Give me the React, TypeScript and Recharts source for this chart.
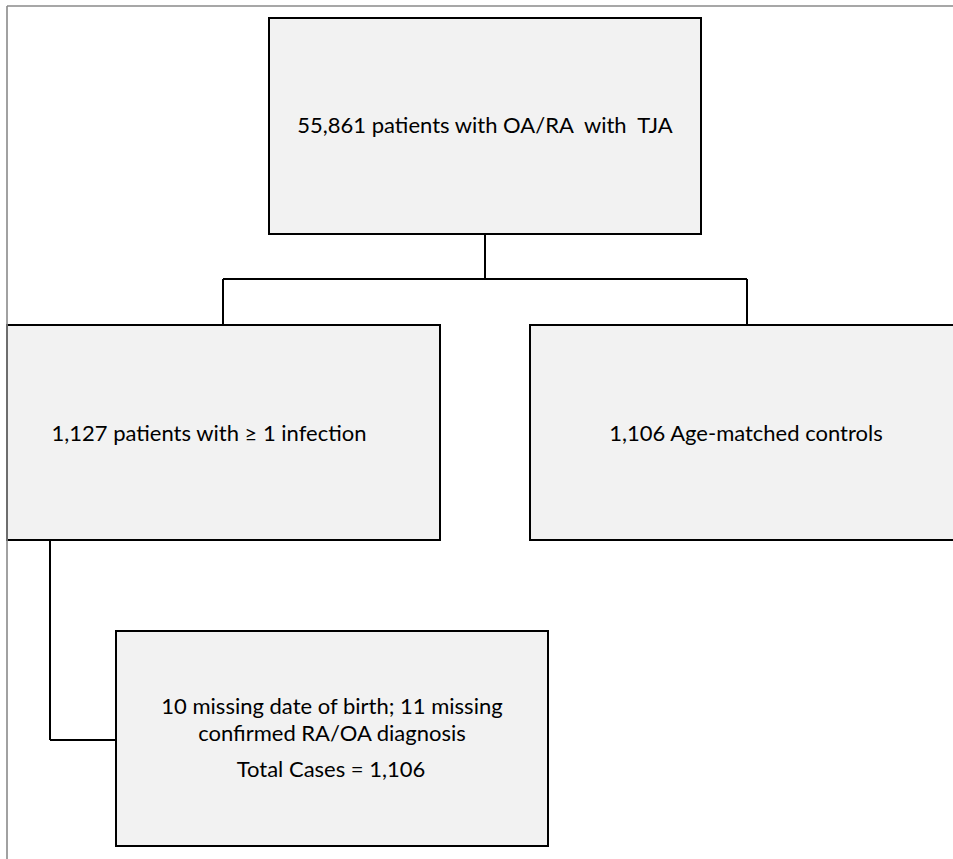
import React from 'react';
import { ComposedChart, XAxis, YAxis, ReferenceArea, ReferenceLine, Scatter } from 'recharts';

// Flowchart nodes (chart units = page pixels)
const boxes = [
  { id: 'total', x1: 269, x2: 701, y1: 18, y2: 234 },
  { id: 'cases', x1: 7, x2: 440, y1: 325, y2: 540 },
  { id: 'controls', x1: 530, x2: 964, y1: 325, y2: 540 },
  { id: 'final', x1: 116, x2: 548, y1: 631, y2: 846 },
];

// Connectors between nodes
const connectors = [
  [{ x: 485, y: 234 }, { x: 485, y: 279 }],
  [{ x: 223, y: 279 }, { x: 747, y: 279 }],
  [{ x: 223, y: 279 }, { x: 223, y: 325 }],
  [{ x: 747, y: 279 }, { x: 747, y: 325 }],
  [{ x: 50, y: 540 }, { x: 50, y: 740 }],
  [{ x: 50, y: 740 }, { x: 116, y: 740 }],
];

// Outer frame lines
const frame = [
  [{ x: 7, y: 6 }, { x: 953, y: 6 }],
  [{ x: 7, y: 6 }, { x: 7, y: 859 }],
];

// Text labels (x = centre, y = baseline)
const labels = [
  { x: 485, y: 133, text: '55,861 patients with OA/RA  with  TJA' },
  { x: 209, y: 441, text: '1,127 patients with \u2265 1 infection' },
  { x: 746, y: 441, text: '1,106 Age-matched controls' },
  { x: 332, y: 714, text: '10 missing date of birth; 11 missing' },
  { x: 332, y: 741, text: 'confirmed RA/OA diagnosis' },
  { x: 331, y: 777, text: 'Total Cases = 1,106' },
];

const FONT = 'Lato, "Open Sans", sans-serif';

const TextShape = (props: any) => {
  const { cx, cy, payload } = props;
  return (
    <text
      x={cx}
      y={cy}
      textAnchor="middle"
      fontFamily={FONT}
      fontSize={22}
      fill="#000"
      style={{ whiteSpace: 'pre' }}
    >
      {payload.text}
    </text>
  );
};

export default function App() {
  return (
    <div style={{ position: 'absolute', left: 0, top: 0, width: 953, height: 859, background: '#fff' }}>
      <ComposedChart width={953} height={859} margin={{ top: 0, right: 0, bottom: 0, left: 0 }}>
        <XAxis type="number" dataKey="x" domain={[0, 953]} hide allowDataOverflow />
        <YAxis type="number" dataKey="y" domain={[0, 859]} reversed hide allowDataOverflow />
        {frame.map((seg, i) => (
          <ReferenceLine key={'f' + i} segment={seg} stroke="#8a8a8a" strokeWidth={1.6} ifOverflow="visible" />
        ))}
        {connectors.map((seg, i) => (
          <ReferenceLine key={'c' + i} segment={seg} stroke="#000" strokeWidth={2} ifOverflow="visible" />
        ))}
        {boxes.map((b) => (
          <ReferenceArea
            key={b.id}
            x1={b.x1}
            x2={b.x2}
            y1={b.y1}
            y2={b.y2}
            fill="#f2f2f2"
            fillOpacity={1}
            stroke="#000"
            strokeWidth={2}
            ifOverflow="visible"
          />
        ))}
        <Scatter data={labels} shape={TextShape} isAnimationActive={false} />
      </ComposedChart>
    </div>
  );
}
